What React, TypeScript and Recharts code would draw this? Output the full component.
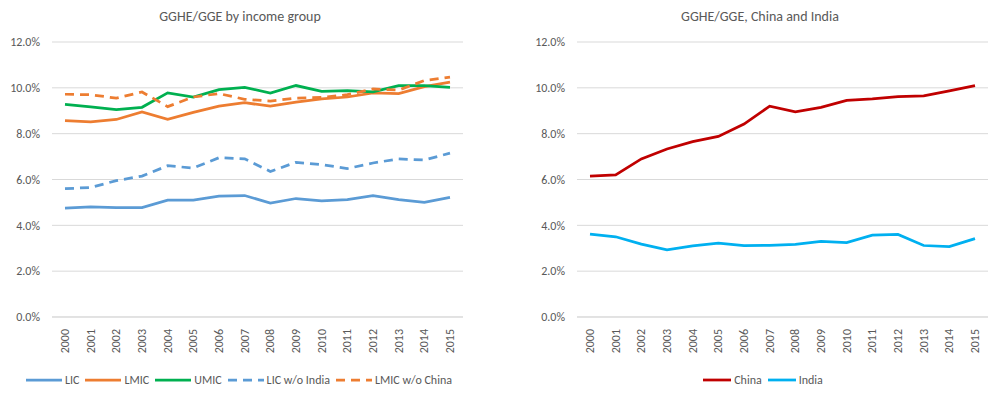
import React from "react"
import { LineChart, Line, XAxis, YAxis, CartesianGrid, Legend } from "recharts"

// years on the x axis
const years = [
  "2000", "2001", "2002", "2003", "2004", "2005", "2006", "2007",
  "2008", "2009", "2010", "2011", "2012", "2013", "2014", "2015"
]

// GGHE/GGE, % — income groups
const lic = [4.75, 4.8, 4.77, 4.77, 5.1, 5.1, 5.27, 5.3, 4.97, 5.17, 5.07, 5.12, 5.3, 5.12, 5.0, 5.22]
const lmic = [8.57, 8.52, 8.62, 8.95, 8.63, 8.93, 9.2, 9.35, 9.2, 9.38, 9.52, 9.6, 9.78, 9.75, 10.05, 10.25]
const umic = [9.28, 9.17, 9.05, 9.15, 9.78, 9.6, 9.92, 10.02, 9.77, 10.1, 9.85, 9.88, 9.82, 10.1, 10.1, 10.02]
const licNoIndia = [5.6, 5.65, 5.95, 6.15, 6.6, 6.5, 6.95, 6.9, 6.35, 6.75, 6.65, 6.48, 6.72, 6.9, 6.85, 7.15]
const lmicNoChina = [9.72, 9.7, 9.55, 9.82, 9.18, 9.6, 9.75, 9.5, 9.42, 9.55, 9.58, 9.7, 9.95, 9.9, 10.32, 10.47]

// GGHE/GGE, % — China and India
const china = [6.15, 6.2, 6.9, 7.33, 7.65, 7.88, 8.42, 9.2, 8.95, 9.15, 9.45, 9.52, 9.62, 9.65, 9.87, 10.1]
const india = [3.62, 3.5, 3.18, 2.93, 3.1, 3.22, 3.12, 3.13, 3.17, 3.3, 3.25, 3.57, 3.6, 3.12, 3.07, 3.42]

const yTicks = [0, 2, 4, 6, 8, 10, 12]

const FONT = 'Calibri, Carlito, Lato, "Liberation Sans", sans-serif'
const TEXT = "#595959"
const GRID = "#D9D9D9"

interface Series {
  key: string
  name: string
  values: number[]
  color: string
  dash?: string
}

const leftSeries: Series[] = [
  { key: "lic", name: "LIC", values: lic, color: "#5B9BD5" },
  { key: "lmic", name: "LMIC", values: lmic, color: "#ED7D31" },
  { key: "umic", name: "UMIC", values: umic, color: "#00B050" },
  { key: "licNoIndia", name: "LIC w/o India", values: licNoIndia, color: "#5B9BD5", dash: "9 6" },
  { key: "lmicNoChina", name: "LMIC w/o China", values: lmicNoChina, color: "#ED7D31", dash: "9 6" }
]

const rightSeries: Series[] = [
  { key: "china", name: "China", values: china, color: "#C00000" },
  { key: "india", name: "India", values: india, color: "#00B0F0" }
]

function buildRows(series: Series[]) {
  return years.map((year, i) => {
    const row: Record<string, any> = { year }
    series.forEach((s) => {
      row[s.key] = s.values[i]
    })
    return row
  })
}

function YearTick({ x, y, payload }: any) {
  return (
    <text
      transform={`translate(${x},${y}) rotate(-90)`}
      textAnchor="end"
      dominantBaseline="central"
      fontSize={12}
      fontFamily={FONT}
      fill={TEXT}
    >
      {payload.value}
    </text>
  )
}

function LegendRow({ series, iconWidth, shift }: { series: Series[]; iconWidth: number; shift: number }) {
  return (
    <div
      style={{
        height: 24,
        display: "flex",
        justifyContent: "center",
        alignItems: "center",
        gap: 6,
        paddingLeft: shift,
        fontFamily: FONT,
        fontSize: 12,
        color: TEXT
      }}
    >
      {series.map((s) => (
        <div key={s.key} style={{ display: "flex", alignItems: "center" }}>
          <svg width={iconWidth} height={6}>
            <line
              x1={0}
              y1={3}
              x2={iconWidth}
              y2={3}
              stroke={s.color}
              strokeWidth={2.75}
              strokeDasharray={s.dash}
            />
          </svg>
          <span style={{ marginLeft: 3 }}>{s.name}</span>
        </div>
      ))}
    </div>
  )
}

function Panel({
  title,
  series,
  left,
  yAxisWidth,
  rightMargin,
  iconWidth,
  legendShift
}: {
  title: string
  series: Series[]
  left: number
  yAxisWidth: number
  rightMargin: number
  iconWidth: number
  legendShift: number
}) {
  const rows = buildRows(series)
  return (
    <div style={{ position: "absolute", left, top: 0, width: 480, height: 397 }}>
      <div
        style={{
          position: "absolute",
          top: 9,
          left: 0,
          width: 480,
          textAlign: "center",
          fontFamily: FONT,
          fontSize: 14,
          lineHeight: "16px",
          color: TEXT
        }}
      >
        {title}
      </div>
      <LineChart
        width={480}
        height={397}
        data={rows}
        margin={{ top: 42, right: rightMargin, left: 0, bottom: 5 }}
      >
        <CartesianGrid vertical={false} stroke={GRID} />
        <XAxis
          dataKey="year"
          interval={0}
          padding={{ left: 13, right: 13 }}
          tick={<YearTick />}
          tickLine={false}
          axisLine={{ stroke: GRID }}
          tickMargin={6}
          height={51}
        />
        <YAxis
          domain={[0, 12]}
          ticks={yTicks}
          tickFormatter={(v: number) => `${v.toFixed(1)}%`}
          tickLine={false}
          axisLine={false}
          tickMargin={6}
          width={yAxisWidth}
          tick={{ fill: TEXT, fontSize: 12, fontFamily: FONT }}
        />
        <Legend
          verticalAlign="bottom"
          content={() => <LegendRow series={series} iconWidth={iconWidth} shift={legendShift} />}
        />
        {series.map((s) => (
          <Line
            key={s.key}
            type="linear"
            dataKey={s.key}
            name={s.name}
            stroke={s.color}
            strokeWidth={2.75}
            strokeDasharray={s.dash}
            dot={false}
            activeDot={false}
            isAnimationActive={false}
          />
        ))}
      </LineChart>
    </div>
  )
}

export default function App() {
  return (
    <div style={{ position: "absolute", left: 0, top: 0, width: 1000, height: 397, background: "#fff" }}>
      <Panel
        title="GGHE/GGE by income group"
        series={leftSeries}
        left={0}
        yAxisWidth={52}
        rightMargin={17}
        iconWidth={36}
        legendShift={15}
      />
      <Panel
        title="GGHE/GGE, China and India"
        series={rightSeries}
        left={520}
        yAxisWidth={57}
        rightMargin={12}
        iconWidth={28}
        legendShift={18}
      />
    </div>
  )
}
